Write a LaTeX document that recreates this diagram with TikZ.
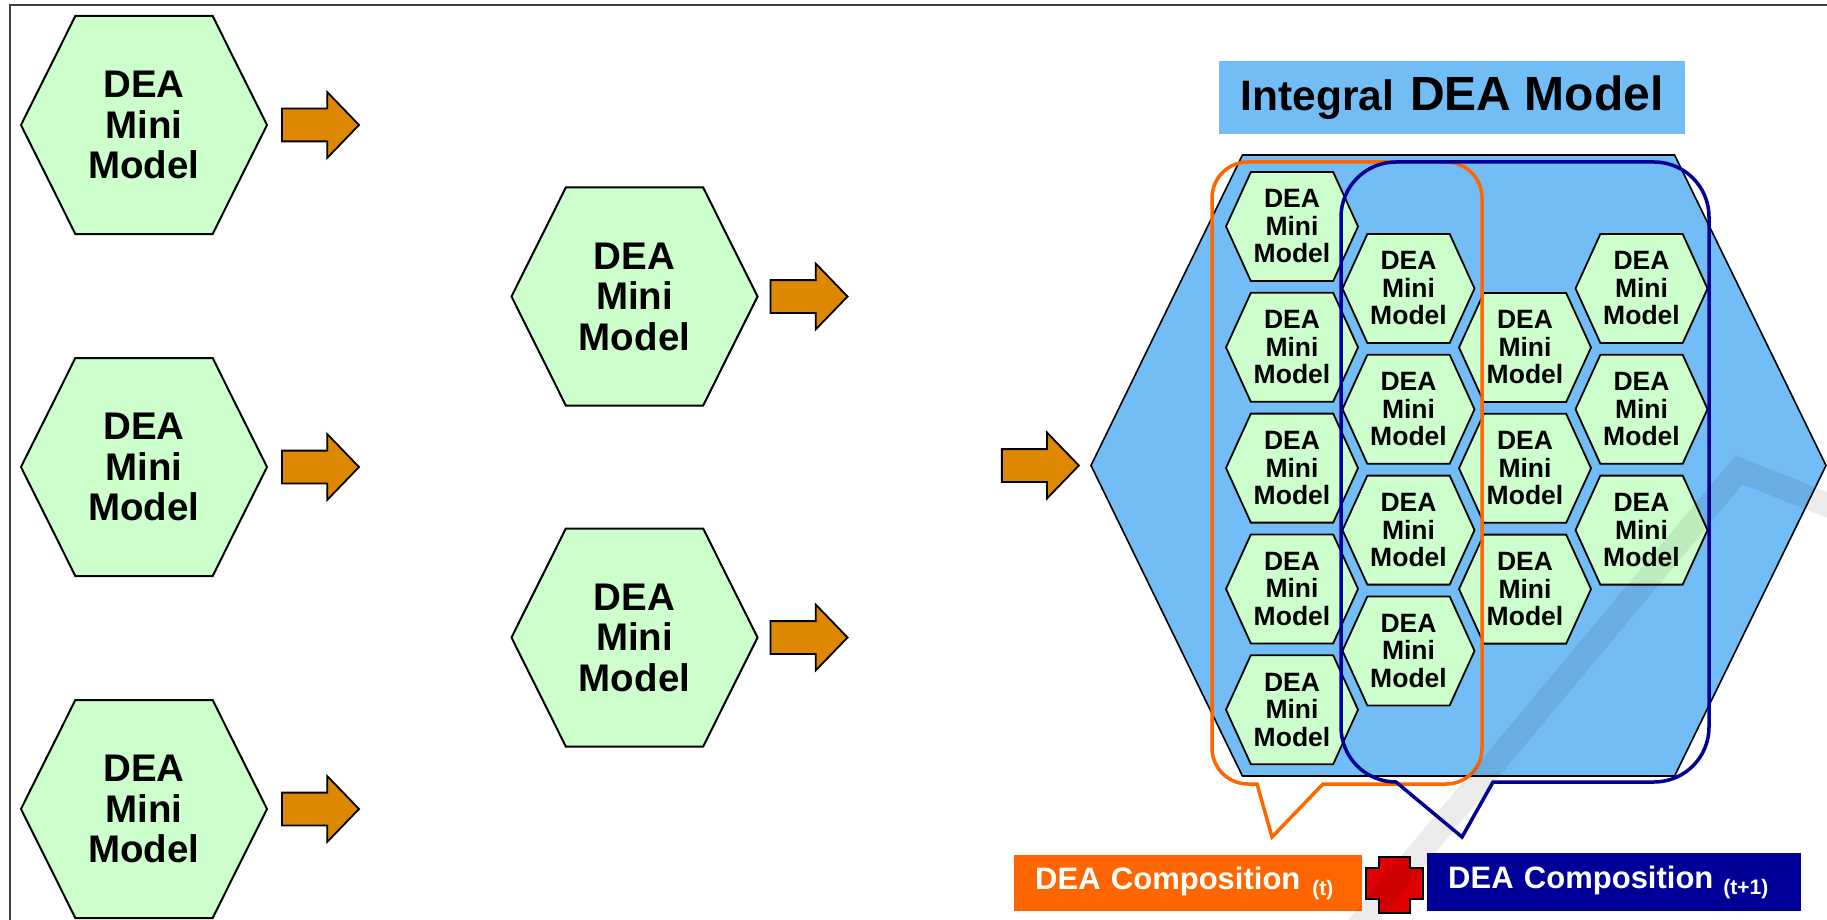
\documentclass[tikz,border=0pt]{standalone}
\usepackage{fontspec}
\setmainfont{Liberation Sans}
\usetikzlibrary{shapes.symbols,shapes.arrows,positioning}
\definecolor{Mint}{HTML}{CCFFCC}
\definecolor{Sky}{HTML}{72BDF6}
\definecolor{Amber}{HTML}{DD8800}
\definecolor{Tangerine}{HTML}{FF6600}
\definecolor{Navy}{HTML}{000099}
\definecolor{CrossRed}{HTML}{E00000}

\begin{document}
\begin{tikzpicture}[
  x=1pt,y=-1pt,
  bighex/.style={signal,signal to=west and east,signal pointer angle=127,draw=black,line width=2pt,fill=Mint,minimum width=246pt,minimum height=218pt,inner sep=0pt,align=center,font=\bfseries\fontsize{38.5}{40.5}\selectfont},
  minihex/.style={signal,signal to=west and east,signal pointer angle=131,draw=black,line width=1.8pt,fill=Mint,minimum width=132pt,minimum height=109pt,inner sep=0pt,align=center,font=\bfseries\fontsize{26.5}{27.5}\selectfont},
  blockarr/.style={single arrow,draw=black,line width=1.8pt,fill=Amber,minimum height=77pt,minimum width=64pt,single arrow head extend=16.5pt,single arrow tip angle=92,inner xsep=0pt,inner ysep=15.5pt},
  callout/.style={line width=3.5pt},
  complabel/.style={minimum height=56pt,inner xsep=21pt,inner ysep=0pt,text=white,align=left,font=\bfseries\fontsize{31}{31}\selectfont}
]
\useasboundingbox (0,0) rectangle (1827,920);
\draw[line width=2pt,black!75] (10,920) -- (10,5) -- (1827,5);

% left column
\node[bighex] (l1) at (144,125) {DEA\\Mini\\Model};
\node[bighex,below=122pt of l1] (l2) {DEA\\Mini\\Model};
\node[bighex,below=122pt of l2] (l3) {DEA\\Mini\\Model};
\node[blockarr,right=13pt of l1] (al1) {};
\node[blockarr,right=13pt of l2] (al2) {};
\node[blockarr,right=13pt of l3] (al3) {};

% middle column
\node[bighex] (m1) at (634.5,296.5) {DEA\\Mini\\Model};
\node[bighex,below=121pt of m1] (m2) {DEA\\Mini\\Model};
\node[blockarr,right=11pt of m1] (am1) {};
\node[blockarr,right=11pt of m2] (am2) {};

% integral model
\node[fill=Sky,minimum width=466pt,minimum height=73pt,inner sep=0pt,font=\bfseries] (title) at (1452,97.5)
  {\fontsize{42.5}{44}\selectfont Integral\hspace{16pt}\fontsize{48}{50}\selectfont DEA Model};
\node[signal,signal to=west and east,signal pointer angle=128,draw=black,line width=1.6pt,fill=Sky,minimum width=735pt,minimum height=621pt,inner sep=0pt] (integral) at (1458.5,465.5) {};
\node[blockarr,left=10pt of integral] (ain) {};

\node[minihex] (a1) at (1292,226.5) {DEA\\Mini\\Model};
\node[minihex,below=10pt of a1] (a2) {DEA\\Mini\\Model};
\node[minihex,below=10pt of a2] (a3) {DEA\\Mini\\Model};
\node[minihex,below=10pt of a3] (a4) {DEA\\Mini\\Model};
\node[minihex,below=10pt of a4] (a5) {DEA\\Mini\\Model};
\node[minihex] (b1) at (1408.5,288.5) {DEA\\Mini\\Model};
\node[minihex,below=10pt of b1] (b2) {DEA\\Mini\\Model};
\node[minihex,below=10pt of b2] (b3) {DEA\\Mini\\Model};
\node[minihex,below=10pt of b3] (b4) {DEA\\Mini\\Model};
\node[minihex] (c1) at (1525,347.5) {DEA\\Mini\\Model};
\node[minihex,below=10pt of c1] (c2) {DEA\\Mini\\Model};
\node[minihex,below=10pt of c2] (c3) {DEA\\Mini\\Model};
\node[minihex] (d1) at (1641.5,288.5) {DEA\\Mini\\Model};
\node[minihex,below=10pt of d1] (d2) {DEA\\Mini\\Model};
\node[minihex,below=10pt of d2] (d3) {DEA\\Mini\\Model};

% compositions
\draw[callout,Tangerine] (1257,784) [rounded corners=36pt] -- (1212,784) -- (1212,162) -- (1482,162) -- (1482,784) [sharp corners] -- (1323,784) -- (1272,837) -- cycle;
\draw[callout,Navy] (1493,782) [rounded corners=55pt] -- (1709,782) -- (1709,162) -- (1341,162) -- (1341,782) [sharp corners] -- (1396,782) -- (1462,837) -- cycle;

\node[complabel,fill=Tangerine,text width=306pt,anchor=west] (compt) at (1014,883)
  {DEA Composition\hspace{12pt}{\fontsize{21}{21}\selectfont\raisebox{-6pt}{(t)}}};
\node[complabel,fill=Navy,text width=332pt,minimum height=58pt,anchor=west] (compt1) at (1427,882)
  {DEA Composition\hspace{10pt}{\fontsize{21}{21}\selectfont\raisebox{-6pt}{(t+1)}}};
\draw[line width=1.8pt,fill=CrossRed] (1379,857) -- (1410,857) -- (1410,868) -- (1423,868) -- (1423,899) -- (1410,899) -- (1410,913) -- (1379,913) -- (1379,899) -- (1366,899) -- (1366,868) -- (1379,868) -- cycle;

% watermark
\draw[line width=24pt,black,opacity=.08] (1351,935) -- (1739,470) -- (1840,510);
\end{tikzpicture}
\end{document}
